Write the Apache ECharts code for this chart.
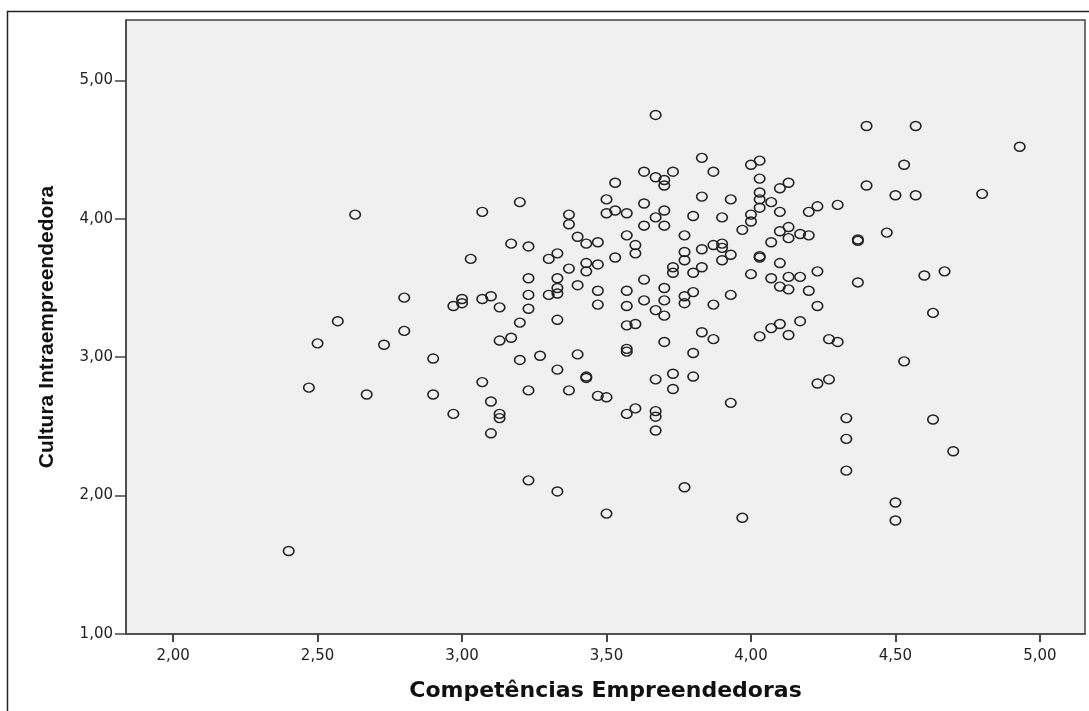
<!DOCTYPE html>
<html>
<head>
<meta charset="utf-8">
<script src="https://cdn.jsdelivr.net/npm/echarts@6/dist/echarts.min.js"></script>
<style>
html,body{margin:0;padding:0;background:#fff;}
#chart{width:1089px;height:711px;}
</style>
</head>
<body>
<div id="chart"></div>
<script>
const xTickValues = [2.0, 2.5, 3.0, 3.5, 4.0, 4.5, 5.0];
const yTickValues = [1.0, 2.0, 3.0, 4.0, 5.0];
const xAxisTitle = 'Competências Empreendedoras';
const yAxisTitle = 'Cultura Intraempreendedora';

// Competências Empreendedoras (x)
const competencias = [
  2.63,3.07,3.20,3.17,3.23,3.03,3.23,2.80,3.00,3.00,2.97,3.07,3.10,3.13,3.23,3.23,2.57,3.20,2.50,2.73,
  2.80,3.13,3.17,2.90,3.20,3.27,2.47,2.67,2.90,3.07,3.23,3.10,2.97,3.13,3.13,3.10,3.23,2.40,3.67,3.83,
  4.00,4.03,3.87,3.63,3.67,3.73,3.70,3.70,3.53,4.03,4.13,4.10,4.03,3.83,3.93,3.50,3.63,4.03,4.07,4.03,
  4.10,3.37,3.37,3.50,3.53,3.57,3.70,3.80,3.90,3.67,3.63,3.70,4.00,4.00,3.97,4.10,4.13,4.13,3.40,3.43,
  3.47,3.57,3.77,3.60,3.60,3.33,3.30,3.53,3.77,3.77,3.83,3.87,3.90,3.90,3.93,3.90,4.03,4.03,4.07,4.10,
  3.37,3.43,3.47,3.43,3.33,3.40,3.63,3.73,3.73,3.80,3.83,4.00,4.07,4.10,4.13,4.13,3.30,3.33,3.33,3.47,
  3.57,3.70,3.77,3.80,3.93,4.40,4.57,4.93,4.53,4.40,4.50,4.57,4.80,4.20,4.23,4.30,4.17,4.20,4.37,4.47,
  4.17,4.20,4.23,4.23,4.37,4.60,4.67,4.63,4.17,4.27,4.30,3.77,3.47,3.57,3.63,3.70,3.67,3.70,3.87,3.33,
  3.57,3.60,3.83,3.87,3.70,4.03,4.07,4.10,4.13,3.40,3.57,3.57,3.80,3.33,3.43,3.67,3.73,3.80,3.73,3.37,
  3.47,3.50,3.93,3.57,3.60,3.67,3.67,3.67,3.33,3.77,4.53,4.23,4.27,4.33,4.33,4.33,4.63,4.70,4.50,4.50,
  3.97,3.50,3.43,4.37
];
// Cultura Intraempreendedora (y)
const cultura = [
  4.03,4.05,4.12,3.82,3.80,3.71,3.57,3.43,3.42,3.39,3.37,3.42,3.44,3.36,3.45,3.35,3.26,3.25,3.10,3.09,
  3.19,3.12,3.14,2.99,2.98,3.01,2.78,2.73,2.73,2.82,2.76,2.68,2.59,2.59,2.56,2.45,2.11,1.60,4.75,4.44,
  4.39,4.42,4.34,4.34,4.30,4.34,4.28,4.24,4.26,4.29,4.26,4.22,4.19,4.16,4.14,4.14,4.11,4.14,4.12,4.08,
  4.05,4.03,3.96,4.04,4.06,4.04,4.06,4.02,4.01,4.01,3.95,3.95,4.03,3.98,3.92,3.91,3.94,3.86,3.87,3.82,
  3.83,3.88,3.88,3.81,3.75,3.75,3.71,3.72,3.76,3.70,3.78,3.81,3.82,3.79,3.74,3.70,3.73,3.72,3.83,3.68,
  3.64,3.68,3.67,3.62,3.57,3.52,3.56,3.65,3.61,3.61,3.65,3.60,3.57,3.51,3.58,3.49,3.45,3.50,3.46,3.48,
  3.48,3.50,3.44,3.47,3.45,4.67,4.67,4.52,4.39,4.24,4.17,4.17,4.18,4.05,4.09,4.10,3.89,3.88,3.85,3.90,
  3.58,3.48,3.62,3.37,3.54,3.59,3.62,3.32,3.26,3.13,3.11,3.39,3.38,3.37,3.41,3.41,3.34,3.30,3.38,3.27,
  3.23,3.24,3.18,3.13,3.11,3.15,3.21,3.24,3.16,3.02,3.06,3.04,3.03,2.91,2.86,2.84,2.88,2.86,2.77,2.76,
  2.72,2.71,2.67,2.59,2.63,2.61,2.57,2.47,2.03,2.06,2.97,2.81,2.84,2.56,2.41,2.18,2.55,2.32,1.95,1.82,
  1.84,1.87,2.85,3.84
];

const points = competencias.map((x, i) => [x, cultura[i]]);
const fmt = v => Number(v).toFixed(2).replace('.', ',');

const chart = echarts.init(document.getElementById('chart'), null, {renderer: 'canvas'});
chart.setOption({
  animation: false,
  backgroundColor: '#ffffff',
  graphic: [{
    type: 'rect',
    shape: {x: 7.5, y: 11.5, width: 1100, height: 720},
    style: {fill: 'none', stroke: '#222', lineWidth: 1.5},
    silent: true,
    z: -1
  }],
  grid: {
    left: 126, top: 20, right: 4, bottom: 77,
    show: true,
    backgroundColor: '#f0f0f0',
    borderColor: '#444',
    borderWidth: 1.5
  },
  xAxis: {
    type: 'value',
    min: 1.837,
    max: 5.156,
    name: xAxisTitle,
    nameLocation: 'middle',
    nameGap: 46,
    nameTextStyle: {fontFamily: 'DejaVu Sans, sans-serif', fontWeight: 'bold', fontSize: 22, color: '#111'},
    axisLine: {show: true, onZero: false, lineStyle: {color: '#444', width: 1.5}},
    axisTick: {show: true, customValues: xTickValues, length: 8, lineStyle: {color: '#444', width: 2}},
    axisLabel: {customValues: xTickValues, formatter: fmt, margin: 15, fontFamily: 'DejaVu Sans, sans-serif', fontSize: 15, color: '#222'},
    splitLine: {show: false}
  },
  yAxis: {
    type: 'value',
    min: 1,
    max: 5.436,
    name: yAxisTitle,
    nameLocation: 'middle',
    nameGap: 68,
    nameTextStyle: {fontFamily: 'Liberation Sans, Arial, sans-serif', fontWeight: 'bold', fontSize: 21, color: '#111'},
    axisLine: {show: true, onZero: false, lineStyle: {color: '#444', width: 1.5}},
    axisTick: {show: true, customValues: yTickValues, length: 11, lineStyle: {color: '#444', width: 1.5}},
    axisLabel: {customValues: yTickValues, formatter: fmt, margin: 13, fontFamily: 'DejaVu Sans, sans-serif', fontSize: 15, color: '#222'},
    splitLine: {show: false}
  },
  series: [{
    type: 'scatter',
    data: points,
    symbol: 'path://M0,50 A50,50 0 1,1 100,50 A50,50 0 1,1 0,50 Z',
    symbolSize: [10.5, 9],
    symbolKeepAspect: false,
    itemStyle: {color: 'rgba(0,0,0,0)', borderColor: '#222', borderWidth: 1.5, opacity: 1},
    emphasis: {disabled: true}
  }]
});
</script>
</body>
</html>
